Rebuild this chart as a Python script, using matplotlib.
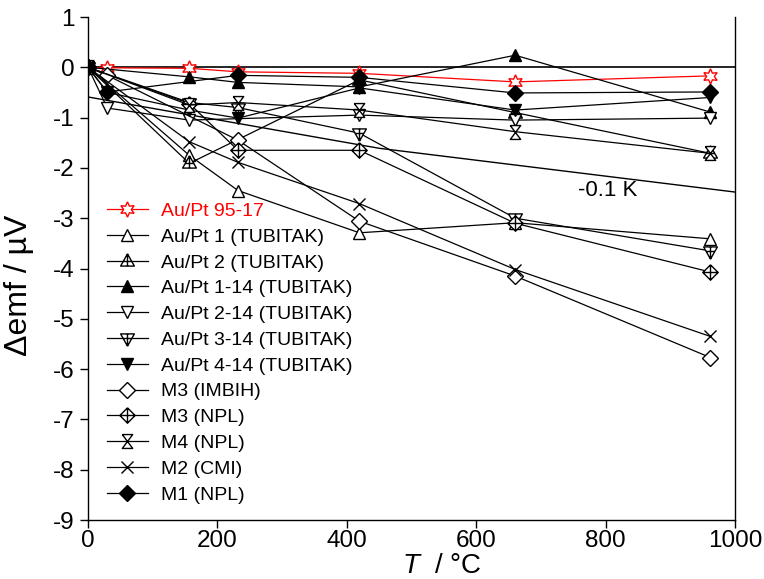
import matplotlib
matplotlib.use("Agg")
import matplotlib.pyplot as plt
from matplotlib.path import Path
import numpy as np

plt.rcParams['font.family'] = ['Liberation Sans', 'DejaVu Sans']
plt.rcParams['axes.unicode_minus'] = False
plt.rcParams['mathtext.fontset'] = 'custom'
plt.rcParams['mathtext.it'] = 'Liberation Sans:italic'

# fixed-point temperatures, °C
T = [0.0, 29.76, 156.6, 231.9, 419.5, 660.3, 961.8]
nan = np.nan

au_pt_95_17 = [0, -0.01, -0.02, -0.09, -0.12, -0.29, -0.17]
au_pt_1 = [0, nan, -1.75, -2.45, -3.29, -3.09, -3.41]
au_pt_2 = [0, nan, -1.91, nan, -0.25, -0.90, -1.71]
au_pt_1_14 = [0, nan, -0.19, -0.30, -0.39, 0.24, -0.89]
au_pt_2_14 = [0, -0.81, -1.05, nan, -0.95, -1.05, -1.01]
au_pt_3_14 = [0, nan, -0.70, -0.80, -1.31, -3.00, -3.65]
au_pt_4_14 = [0, -0.50, -0.85, -1.01, -0.41, -0.85, -0.60]
m3_imbih = [0, -0.16, nan, -1.45, -3.06, -4.15, -5.77]
m3_npl = [0, nan, -0.72, -1.65, -1.65, -3.10, -4.07]
m4_npl = [0, nan, -0.75, -0.70, -0.85, -1.28, -1.71]
m2_cmi = [0, nan, -1.48, -1.89, -2.71, -4.02, -5.35]
m1_npl = [0, -0.49, nan, -0.16, -0.20, -0.51, -0.49]

# -0.1 K reference line
ref_T = [0, 450, 1000]
ref_emf = [-0.59, -1.61, -2.48]

labels = ["Au/Pt 95-17", "Au/Pt 1 (TUBITAK)", "Au/Pt 2 (TUBITAK)",
          "Au/Pt 1-14 (TUBITAK)", "Au/Pt 2-14 (TUBITAK)", "Au/Pt 3-14 (TUBITAK)",
          "Au/Pt 4-14 (TUBITAK)", "M3 (IMBIH)", "M3 (NPL)", "M4 (NPL)",
          "M2 (CMI)", "M1 (NPL)"]

# custom marker paths
M, L = Path.MOVETO, Path.LINETO
tri_plus = Path([(0, 1), (-0.9, -0.6), (0.9, -0.6), (0, 1), (0, 1), (0, -0.6), (-0.55, 0.0), (0.55, 0.0)],
                [M, L, L, L, M, L, M, L])
tri_dn_plus = Path([(0, -1), (-0.9, 0.6), (0.9, 0.6), (0, -1), (0, -1), (0, 0.6), (-0.55, 0.0), (0.55, 0.0)],
                   [M, L, L, L, M, L, M, L])
diam_plus = Path([(0, 1), (-1, 0), (0, -1), (1, 0), (0, 1), (0, 1), (0, -1), (-1, 0), (1, 0)],
                 [M, L, L, L, L, M, L, M, L])
hourglass = Path([(-0.75, 1), (0.75, 1), (-0.75, -1), (0.75, -1), (-0.75, 1)],
                 [M, L, L, L, L])
star6 = (6, 1, 0)

series = [au_pt_95_17, au_pt_1, au_pt_2, au_pt_1_14, au_pt_2_14, au_pt_3_14,
          au_pt_4_14, m3_imbih, m3_npl, m4_npl, m2_cmi, m1_npl]
styles = [
    dict(marker=star6, color='red', mfc='white', ms=11),
    dict(marker='^', color='black', mfc='white', ms=9),
    dict(marker=tri_plus, color='black', mfc='white', ms=11),
    dict(marker='^', color='black', mfc='black', ms=9),
    dict(marker='v', color='black', mfc='white', ms=9),
    dict(marker=tri_dn_plus, color='black', mfc='white', ms=11),
    dict(marker='v', color='black', mfc='black', ms=9),
    dict(marker='D', color='black', mfc='white', ms=8),
    dict(marker=diam_plus, color='black', mfc='white', ms=11),
    dict(marker=hourglass, color='black', mfc='white', ms=10),
    dict(marker='x', color='black', mfc='white', ms=9),
    dict(marker='D', color='black', mfc='black', ms=8),
]

fig = plt.figure(figsize=(7.64, 5.79), dpi=100)
ax = fig.add_axes([88/764, 1 - 520/579, (735-88)/764, (520-17)/579])

ax.axhline(0, color='black', lw=1.2, zorder=1)
ax.plot(ref_T, ref_emf, color='black', lw=1.0, zorder=1)

for y, lab, st in zip(series, labels, styles):
    y = np.array(y, dtype=float)
    m = ~np.isnan(y)
    ax.plot(np.array(T)[m], y[m], lw=0.9, mew=1.0, label=lab, zorder=3, **st)

ax.text(757, -2.45, "-0.1 K", fontsize=16, ha='left', va='center')

ax.set_xlim(0, 1000)
ax.set_ylim(-9, 1)
ax.set_xticks(np.arange(0, 1001, 200))
ax.set_yticks(np.arange(-9, 2, 1))
ax.tick_params(labelsize=17.5, direction='out', length=6, width=1)
ax.tick_params(axis='x', pad=1)
for s in ax.spines.values():
    s.set_linewidth(1.0)
ax.spines['top'].set_visible(False)
ax.set_xlabel(r"$\mathit{T}$  / °C", fontsize=20)
ax.xaxis.set_label_coords((442 - 88) / 647, -0.065)
ax.set_ylabel("Δemf / µV", fontsize=23)
ax.yaxis.set_label_coords(-0.083, (520 - 285) / 503)

leg = ax.legend(loc='upper left', bbox_to_anchor=(0.017, 0.647), frameon=False,
                fontsize=14, handlelength=2.1, handletextpad=0.7,
                labelspacing=0.42, borderaxespad=0)
leg.get_texts()[0].set_color('red')

fig.savefig("out.png", dpi=100)
